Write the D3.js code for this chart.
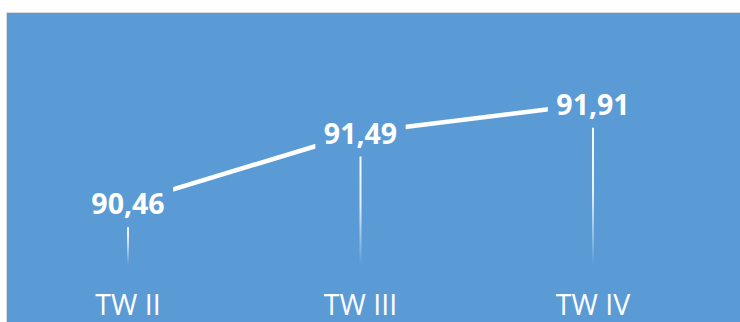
<!DOCTYPE html>
<html>
<head>
<meta charset="utf-8">
<script src="https://cdn.jsdelivr.net/npm/d3@7"></script>
<style>
  html, body { margin: 0; padding: 0; background: #ffffff; }
  svg { display: block; }
</style>
</head>
<body>
<svg id="chart" width="740" height="322"></svg>
<script>
// Quarterly index values
const categories = ["TW II", "TW III", "TW IV"];
const values = [90.46, 91.49, 91.91];
const valueLabels = ["90,46", "91,49", "91,91"];
const yDomain = [89.5, 92.5];

const W = 740, H = 322;
const bg = "#5B9BD5";
const svg = d3.select("#chart");

// Chart area panel
svg.append("rect")
  .attr("x", 6.5).attr("y", 12.5)
  .attr("width", W).attr("height", H)
  .attr("fill", bg)
  .attr("stroke", "#d9d9d9").attr("stroke-width", 1);

const x = d3.scalePoint().domain(categories).range([128, 593]);
const y = d3.scaleLinear().domain(yDomain).range([268.8, 63.3]);

// Fading gradient for the drop lines
const defs = svg.append("defs");
const grad = defs.append("linearGradient")
  .attr("id", "dropFade")
  .attr("x1", 0).attr("y1", 0).attr("x2", 0).attr("y2", 1);
grad.append("stop").attr("offset", "0").attr("stop-color", "#fff").attr("stop-opacity", 1);
grad.append("stop").attr("offset", "0.55").attr("stop-color", "#fff").attr("stop-opacity", 0.85);
grad.append("stop").attr("offset", "1").attr("stop-color", "#fff").attr("stop-opacity", 0);

const data = categories.map((c, i) => ({ c, v: values[i], label: valueLabels[i] }));

// Drop lines from each point down to the category axis
svg.append("g").selectAll("rect")
  .data(data)
  .join("rect")
  .attr("x", d => x(d.c) - 1)
  .attr("y", d => y(d.v))
  .attr("width", 2)
  .attr("height", d => y(yDomain[0]) - 4 - y(d.v))
  .attr("fill", "url(#dropFade)");

// Series line
const line = d3.line().x(d => x(d.c)).y(d => y(d.v));
svg.append("path")
  .datum(data)
  .attr("d", line)
  .attr("fill", "none")
  .attr("stroke", "#ffffff")
  .attr("stroke-width", 4.5)
  .attr("stroke-linecap", "butt");

// Data labels with panel-coloured boxes
const lbl = svg.append("g").selectAll("g")
  .data(data)
  .join("g")
  .attr("transform", d => `translate(${x(d.c)},${y(d.v) + 1})`);

const txt = lbl.append("text")
  .attr("text-anchor", "middle")
  .attr("dy", "0.36em")
  .attr("fill", "#ffffff")
  .attr("font-family", "'Open Sans', sans-serif")
  .attr("font-weight", "bold")
  .attr("font-size", 28.5)
  .text(d => d.label);

txt.each(function () {
  const w = this.getComputedTextLength();
  d3.select(this.parentNode).insert("rect", "text")
    .attr("x", -w / 2 - 8.5)
    .attr("y", -23)
    .attr("width", w + 17)
    .attr("height", 46)
    .attr("fill", bg);
});

// Category axis labels
svg.append("g").selectAll("text")
  .data(categories)
  .join("text")
  .attr("x", d => x(d))
  .attr("y", 315)
  .attr("text-anchor", "middle")
  .attr("fill", "#ffffff")
  .attr("font-family", "'Open Sans', sans-serif")
  .attr("font-size", 28.5)
  .text(d => d);
</script>
</body>
</html>
